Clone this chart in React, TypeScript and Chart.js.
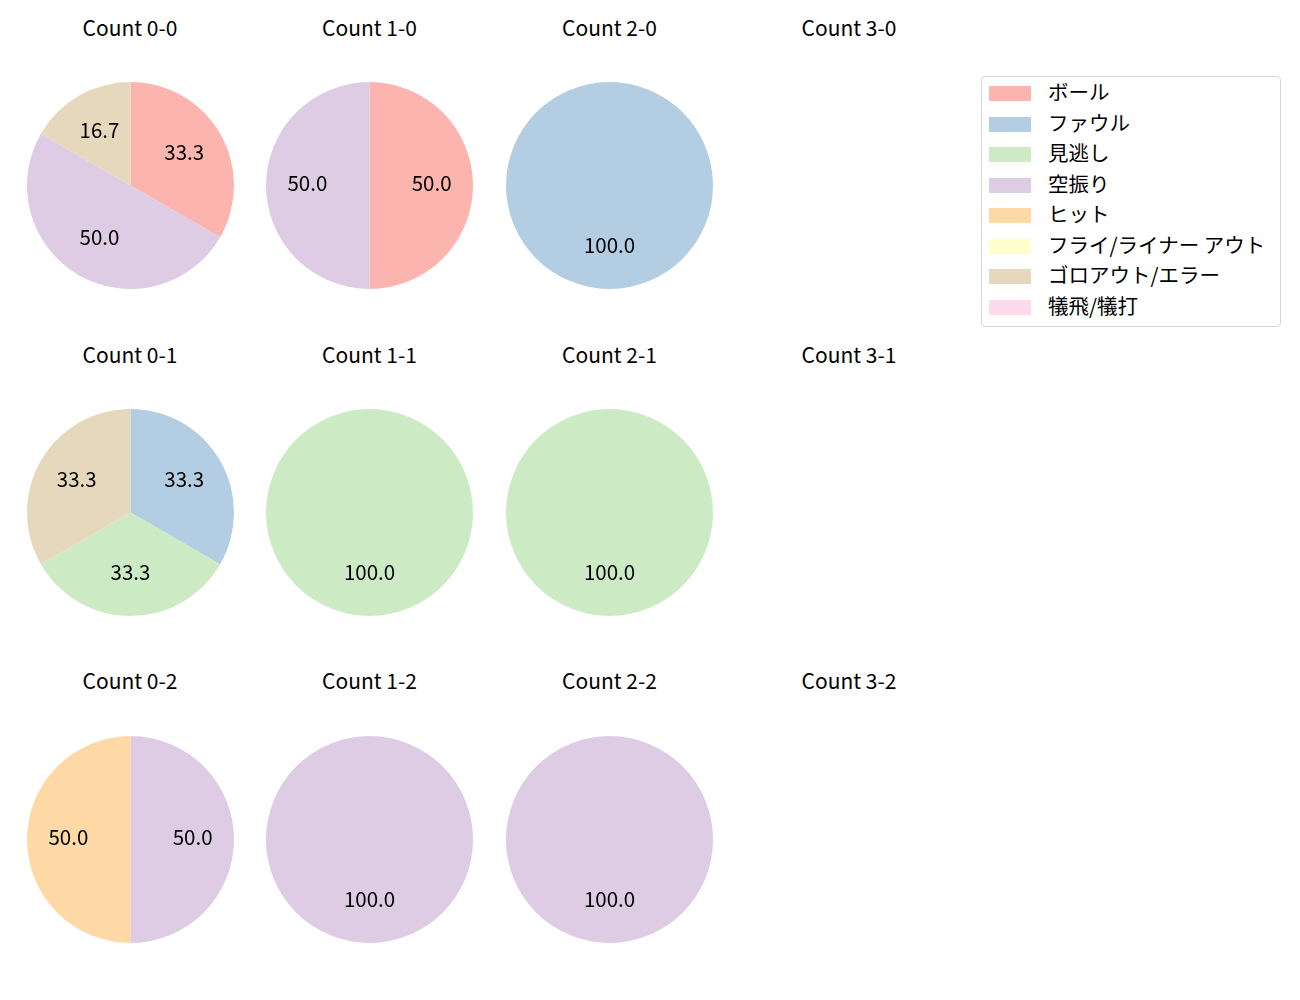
import React, { useEffect, useRef } from "react";
import { Chart, registerables, Plugin } from "chart.js";

Chart.register(...registerables);

// categories and colours (Pastel1)
const categories = [
  "ボール",
  "ファウル",
  "見逃し",
  "空振り",
  "ヒット",
  "フライ/ライナー アウト",
  "ゴロアウト/エラー",
  "犠飛/犠打",
];
const colors = [
  "#fbb4ae",
  "#b3cde3",
  "#ccebc5",
  "#decbe4",
  "#fed9a6",
  "#ffffcc",
  "#e5d8bd",
  "#fddaec",
];

// pitch counts per ball-strike situation (order follows categories)
const count00 = [2, 0, 0, 3, 0, 0, 1, 0];
const count10 = [1, 0, 0, 1, 0, 0, 0, 0];
const count20 = [0, 1, 0, 0, 0, 0, 0, 0];
const count30: number[] = [];
const count01 = [0, 1, 1, 0, 0, 0, 1, 0];
const count11 = [0, 0, 1, 0, 0, 0, 0, 0];
const count21 = [0, 0, 1, 0, 0, 0, 0, 0];
const count31: number[] = [];
const count02 = [0, 0, 0, 1, 1, 0, 0, 0];
const count12 = [0, 0, 0, 1, 0, 0, 0, 0];
const count22 = [0, 0, 0, 1, 0, 0, 0, 0];
const count32: number[] = [];

const panelTitles = [
  ["Count 0-0", "Count 1-0", "Count 2-0", "Count 3-0"],
  ["Count 0-1", "Count 1-1", "Count 2-1", "Count 3-1"],
  ["Count 0-2", "Count 1-2", "Count 2-2", "Count 3-2"],
];
const panelData = [
  [count00, count10, count20, count30],
  [count01, count11, count21, count31],
  [count02, count12, count22, count32],
];

const FONT = "'Noto Sans CJK JP', 'Noto Sans', sans-serif";
const colX = [130, 369.5, 609.5, 849];
const rowY = [185.5, 512.5, 839];
const titleY = [29, 356, 682];
const R = 103.5;

// percentage labels at 0.6 of the radius, like autopct
const pctLabels: Plugin<"pie"> = {
  id: "pctLabels",
  afterDatasetsDraw(chart) {
    const { ctx } = chart;
    const values = chart.data.datasets[0].data as number[];
    const total = values.reduce((a, b) => a + b, 0);
    const meta = chart.getDatasetMeta(0);
    ctx.save();
    ctx.fillStyle = "#000";
    ctx.font = `20.5px ${FONT}`;
    ctx.textAlign = "center";
    ctx.textBaseline = "middle";
    meta.data.forEach((arc, i) => {
      const v = values[i];
      if (!v) return;
      const p = arc.getProps(["x", "y", "startAngle", "endAngle", "outerRadius"], true) as any;
      const mid = (p.startAngle + p.endAngle) / 2;
      const r = p.outerRadius * 0.6;
      // small nudge up: CJK font sits low on a "middle" baseline
      ctx.fillText(((v / total) * 100).toFixed(1), p.x + r * Math.cos(mid), p.y + r * Math.sin(mid) - 2);
    });
    ctx.restore();
  },
};

const PieCell: React.FC<{ data: number[] }> = ({ data }) => {
  const ref = useRef<HTMLCanvasElement>(null);
  useEffect(() => {
    if (!ref.current) return;
    const chart = new Chart(ref.current, {
      type: "pie",
      data: {
        labels: categories,
        datasets: [
          {
            data,
            backgroundColor: colors,
            borderWidth: 0,
          },
        ],
      },
      options: {
        animation: false,
        responsive: true,
        maintainAspectRatio: false,
        layout: { padding: 0 },
        plugins: {
          legend: { display: false },
          tooltip: { enabled: false },
        },
      },
      plugins: [pctLabels],
    });
    return () => chart.destroy();
  }, [data]);
  return <canvas ref={ref}></canvas>;
};

const App: React.FC = () => {
  return (
    <div
      style={{
        position: "absolute",
        left: 0,
        top: 0,
        width: 1300,
        height: 1000,
        background: "#fff",
        fontFamily: FONT,
        color: "#000",
      }}
    >
      {panelTitles.map((row, ri) =>
        row.map((title, ci) => (
          <React.Fragment key={title}>
            <div
              style={{
                position: "absolute",
                left: colX[ci] - 100,
                top: titleY[ri] - 17,
                width: 200,
                height: 30,
                lineHeight: "30px",
                textAlign: "center",
                fontSize: 21,
              }}
            >
              {title}
            </div>
            {panelData[ri][ci].length > 0 && (
              <div
                style={{
                  position: "absolute",
                  left: colX[ci] - R,
                  top: rowY[ri] - R,
                  width: R * 2,
                  height: R * 2,
                }}
              >
                <PieCell data={panelData[ri][ci]} />
              </div>
            )}
          </React.Fragment>
        ))
      )}

      {/* legend */}
      <div
        style={{
          position: "absolute",
          left: 981,
          top: 76,
          width: 300,
          height: 251,
          boxSizing: "border-box",
          border: "1px solid #d6d6d6",
          borderRadius: 4,
        }}
      >
        {categories.map((c, i) => (
          <div
            key={c}
            style={{
              position: "absolute",
              left: 0,
              top: 16 + i * 30.5 - 15,
              height: 30,
              width: 298,
            }}
          >
            <div
              style={{
                position: "absolute",
                left: 7,
                top: 8,
                width: 42,
                height: 15,
                background: colors[i],
              }}
            />
            <div
              style={{
                position: "absolute",
                left: 66,
                top: -2,
                lineHeight: "30px",
                fontSize: 20.5,
                whiteSpace: "nowrap",
              }}
            >
              {c}
            </div>
          </div>
        ))}
      </div>
    </div>
  );
};

export default App;
